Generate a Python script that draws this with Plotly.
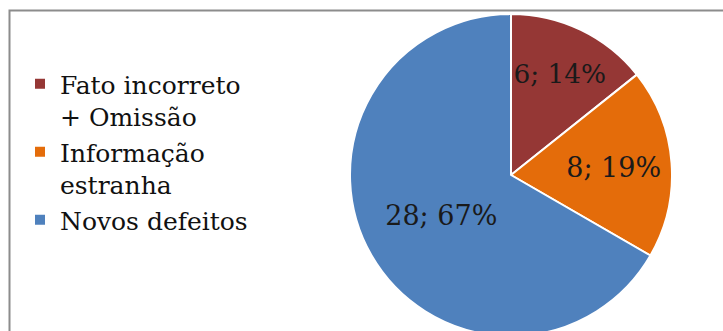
import plotly.graph_objects as go

labels = ["Fato incorreto<br>+ Omissão", "Informação<br>estranha", "Novos defeitos"]
values = [6, 8, 28]
colors = ["#953735", "#E46C0A", "#4F81BD"]

W, VIEW_H, H = 723, 331, 340
cx, cy, r = 511, 175, 161
SERIF = "DejaVu Serif"

fig = go.Figure()
fig.add_trace(go.Pie(
    labels=labels,
    values=values,
    sort=False,
    direction="clockwise",
    rotation=0,
    marker=dict(colors=colors, line=dict(color="white", width=2)),
    texttemplate="%{value}; %{percent:.0%}",
    textposition="inside",
    insidetextorientation="horizontal",
    textfont=dict(family=SERIF, size=27, color="#1a1a1a"),
    hoverinfo="none",
    domain=dict(x=[(cx - r) / W, (cx + r) / W], y=[(H - cy - r) / H, (H - cy + r) / H]),
))

fig.add_shape(type="rect", xref="paper", yref="paper",
              x0=9.5 / W, x1=1.05, y0=-0.05, y1=1 - 10.5 / H,
              line=dict(color="#8c8c8c", width=2), fillcolor="rgba(0,0,0,0)", layer="below")

fig.update_layout(
    width=W, height=H,
    margin=dict(l=0, r=0, t=0, b=0),
    paper_bgcolor="white",
    plot_bgcolor="white",
    font=dict(family=SERIF, size=25, color="#111111"),
    showlegend=True,
    legend=dict(
        x=20 / W, y=1 - 61 / H, xanchor="left", yanchor="top",
        font=dict(family=SERIF, size=25, color="#111111"),
        valign="top",
        bgcolor="rgba(0,0,0,0)",
    ),
)

fig.write_html("out.html",
               post_script="document.documentElement.style.overflow='hidden';document.body.style.overflow='hidden';document.body.style.margin='0';")
